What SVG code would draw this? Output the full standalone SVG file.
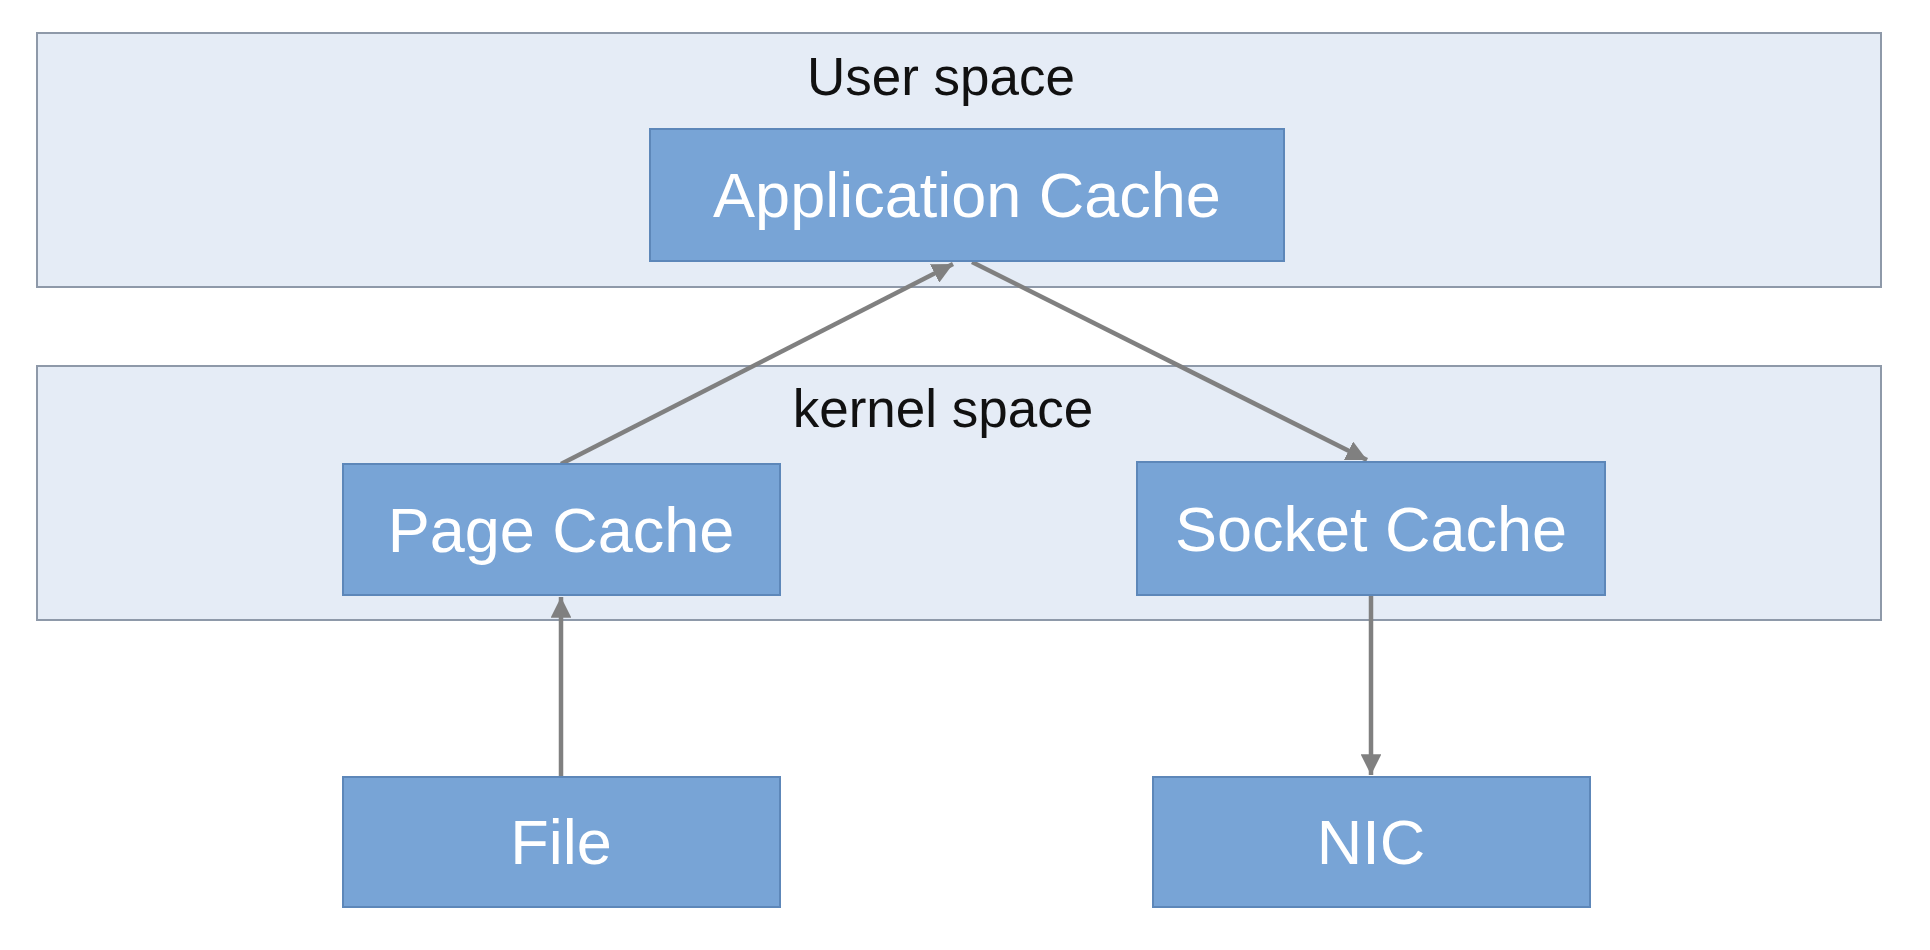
<svg xmlns="http://www.w3.org/2000/svg" width="1930" height="950" viewBox="0 0 1930 950">
  <defs>
    <style>
      .band { fill: #e5ecf6; stroke: #8e99a9; stroke-width: 2; }
      .band-label { font-family: "Liberation Sans", Arial, sans-serif; font-size: 53px; fill: #111111; text-anchor: middle; }
      .node rect { fill: #78a4d6; stroke: #5d87b9; stroke-width: 2; }
      .node text { font-family: "Liberation Sans", Arial, sans-serif; font-size: 63px; fill: #ffffff; text-anchor: middle; }
      .edge { stroke: #808080; stroke-width: 4.5; fill: none; marker-end: url(#arrow); }
    </style>
    <marker id="arrow" markerWidth="4.6" markerHeight="4.6" refX="4.6" refY="2.3" orient="auto" markerUnits="strokeWidth">
      <path d="M0,0 L4.6,2.3 L0,4.6 Z" fill="#808080"/>
    </marker>
  </defs>
  <rect x="0" y="0" width="1930" height="950" fill="#ffffff"/>

  <g id="user-space">
    <rect class="band" x="37" y="33" width="1844" height="254"/>
    <text class="band-label" x="941" y="95">User space</text>
  </g>
  <g id="kernel-space">
    <rect class="band" x="37" y="366" width="1844" height="254"/>
    <text class="band-label" x="943" y="427">kernel space</text>
  </g>

  <g id="connectors">
    <line class="edge" x1="561" y1="464" x2="953" y2="264"/>
    <line class="edge" x1="972" y1="262" x2="1367" y2="460"/>
    <line class="edge" x1="561" y1="777" x2="561" y2="597"/>
    <line class="edge" x1="1371" y1="595" x2="1371" y2="775"/>
  </g>

  <g id="application-cache" class="node">
    <rect x="650" y="129" width="634" height="132"/>
    <text x="967" y="217">Application Cache</text>
  </g>
  <g id="page-cache" class="node">
    <rect x="343" y="464" width="437" height="131"/>
    <text x="561" y="552">Page Cache</text>
  </g>
  <g id="socket-cache" class="node">
    <rect x="1137" y="462" width="468" height="133"/>
    <text x="1371" y="551">Socket Cache</text>
  </g>
  <g id="file" class="node">
    <rect x="343" y="777" width="437" height="130"/>
    <text x="561" y="864">File</text>
  </g>
  <g id="nic" class="node">
    <rect x="1153" y="777" width="437" height="130"/>
    <text x="1371" y="864">NIC</text>
  </g>
</svg>
